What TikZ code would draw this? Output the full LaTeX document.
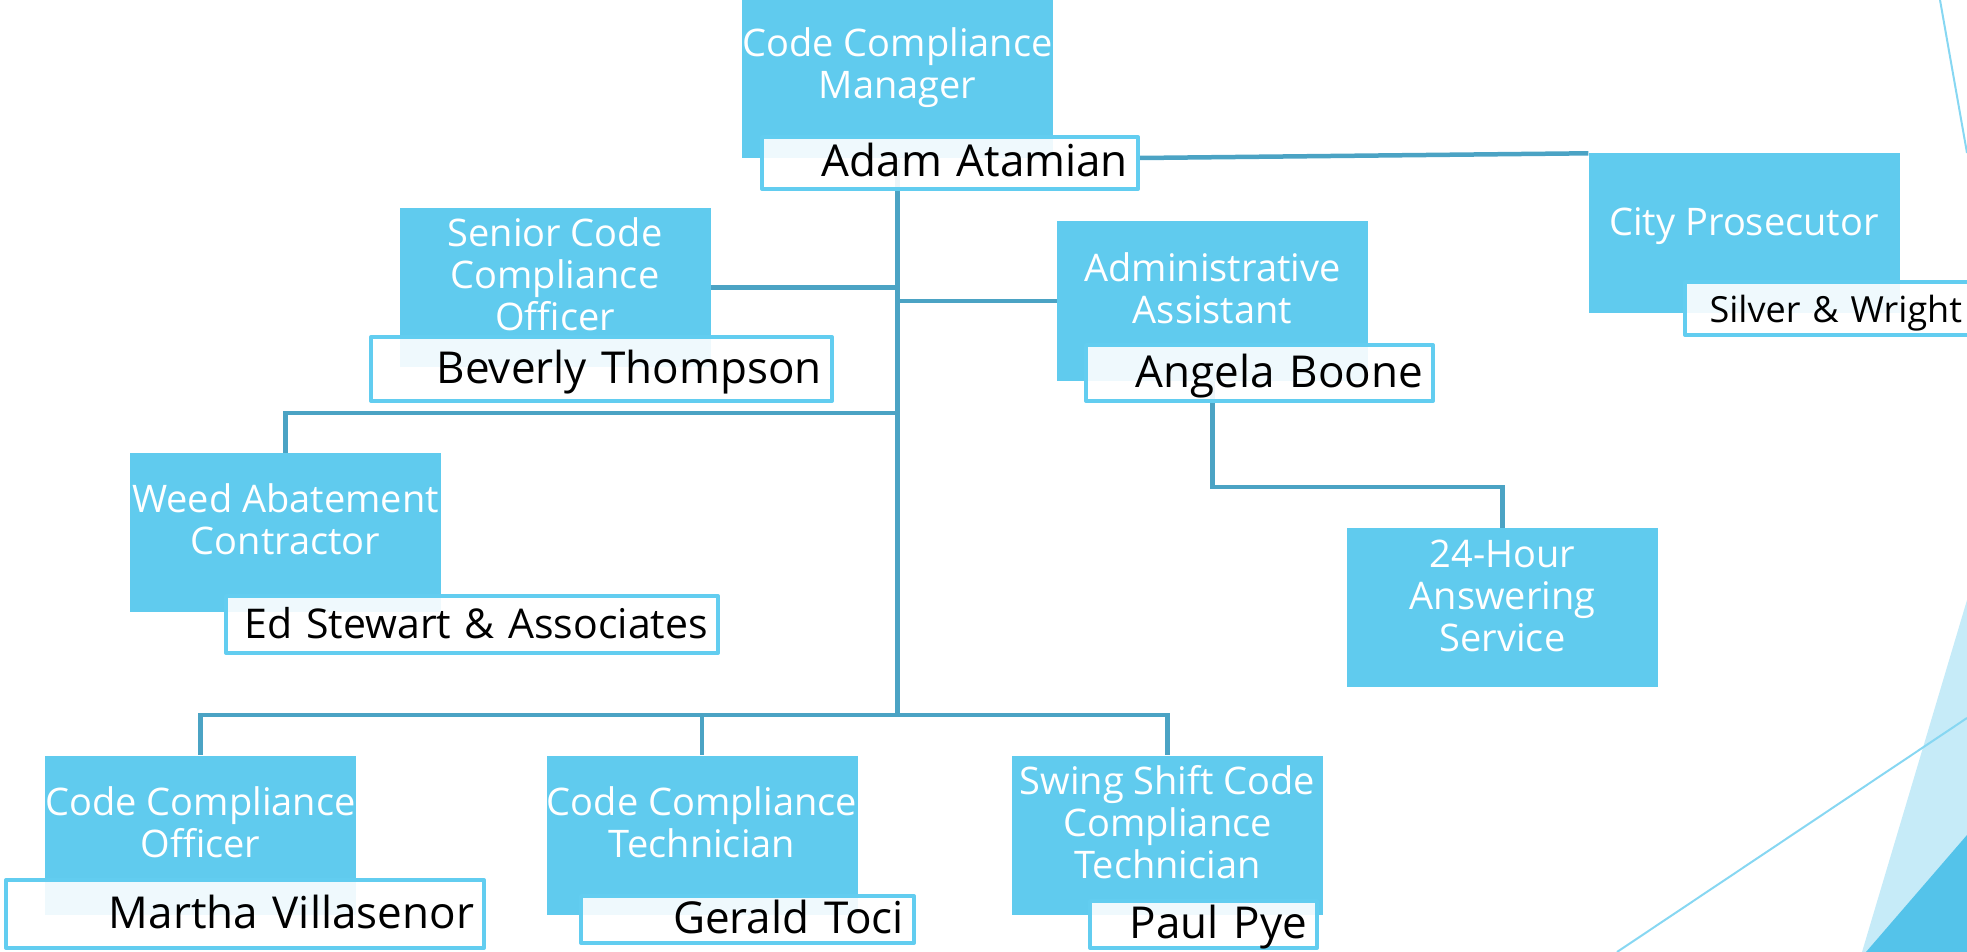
\documentclass[tikz,border=0pt]{standalone}
\usepackage{fontspec}
\setmainfont{Open Sans}
\usetikzlibrary{backgrounds}
\definecolor{postblue}{RGB}{96,203,238}
\definecolor{whoblue}{RGB}{98,205,240}
\definecolor{linkteal}{RGB}{75,163,196}
\definecolor{decoline}{RGB}{135,215,242}
\definecolor{decolight}{RGB}{198,235,248}
\definecolor{decodark}{RGB}{84,195,234}
\begin{document}
\begin{tikzpicture}[x=1pt, y=-1pt, line join=round,
	post/.style={fill=postblue, minimum width=311pt, minimum height=159pt, inner sep=0pt},
	posttxt/.style={text=white, align=center, inner sep=0pt, font=\fontsize{38}{42}\selectfont},
	who/.style={draw=whoblue, line width=4pt, fill=white, fill opacity=0.9, text opacity=1, inner xsep=10pt, inner ysep=0pt, align=right, text height=34pt, text depth=6pt, font=\fontsize{44}{44}\selectfont},
	link/.style={draw=linkteal, line width=4.5pt},
	deco/.style={draw=decoline, line width=2pt}]
	\def\W{1967}\def\H{952}
	\useasboundingbox (0,0) rectangle (\W,\H);
	\clip (0,0) rectangle (\W,\H);
	
	% corner decoration
	\fill[decolight] (1862,\H) -- (\W,600) -- (\W,\H) -- cycle;
	\fill[decodark] (1866,\H) -- (\W,835) -- (\W,\H) -- cycle;
	\draw[deco] (1940,0) -- (\W,153);
	\draw[deco] (1617,\H) -- (\W,718);
	
	% positions
	\node[post] (mgr) at (897.5,79) {};
	\node[post] (sen) at (555,287.5) {};
	\node[post] (adm) at (1212.5,301) {};
	\node[post] (city) at (1744,233) {};
	\node[post] (weed) at (285.5,532.5) {};
	\node[post] (ans) at (1502.5,607.5) {};
	\node[post] (cco) at (200.5,835) {};
	\node[post] (cct) at (702,835) {};
	\node[post] (swing) at (1167.5,835) {};
	
	\node[posttxt] (mgr-t) at ([yshift=11pt]mgr.center) {Code Compliance\\Manager};
	\node[posttxt] (sen-t) at ([yshift=13pt]sen.center) {Senior Code\\Compliance\\Officer};
	\node[posttxt] (adm-t) at ([yshift=13pt]adm.center) {Administrative\\Assistant};
	\node[posttxt] (city-t) at ([yshift=7pt]city.center) {City Prosecutor};
	\node[posttxt] (weed-t) at ([yshift=13pt]weed.center) {Weed Abatement\\Contractor};
	\node[posttxt] (ans-t) at ([yshift=12pt]ans.center) {24-Hour\\Answering\\Service};
	\node[posttxt] (cco-t) at ([yshift=13pt]cco.center) {Code Compliance\\Officer};
	\node[posttxt] (cct-t) at ([yshift=13pt]cct.center) {Code Compliance\\Technician};
	\node[posttxt] (swing-t) at ([yshift=13pt]swing.center) {Swing Shift Code\\Compliance\\Technician};
	
	% names
	\node[who, text width=356pt, minimum height=52pt] (adamn) at (950,163) {Adam Atamian};
	\node[who, text width=441pt, minimum height=64pt] (bevn) at (601.5,369) {Beverly Thompson};
	\node[who, text width=327pt, minimum height=56pt] (angn) at (1259.5,373) {Angela Boone};
	\node[who, text width=472pt, minimum height=57pt, font=\fontsize{41}{41}\selectfont] (edn) at (472,624.5) {Ed Stewart \& Associates};
	\node[who, text width=267pt, minimum height=53pt, font=\fontsize{36}{36}\selectfont] (silvn) at (1828.5,308.5) {Silver \& Wright};
	\node[who, text width=458pt, minimum height=68pt] (marn) at (245,914) {Martha Villasenor};
	\node[who, text width=313pt, minimum height=47pt] (gern) at (747.5,919.5) {Gerald Toci};
	\node[who, text width=207pt, minimum height=47pt] (pauln) at (1203.5,924.5) {Paul Pye};
	
	\coordinate (hub) at (897.5,715);
	\coordinate (wj) at (897.5,413);
	\coordinate (aj) at (1212.5,487);
	
	\begin{scope}[on background layer]
		\draw[link] (mgr.south) -- (hub);
		\draw[link] ([yshift=5pt]adamn.east) -- (city.north west);
		\draw[link] (sen.east) -- (sen.east -| hub);
		\draw[link] (adm.west -| hub) -- (adm.west);
		\draw[link] (wj) -| (weed.north);
		\draw[link] (hub) -| (cco.north);
		\draw[link] (hub) -| (cct.north);
		\draw[link] (hub) -| (swing.north);
		\draw[link] (adm.south) -- (aj) -| (ans.north);
	\end{scope}
\end{tikzpicture}
\end{document}
